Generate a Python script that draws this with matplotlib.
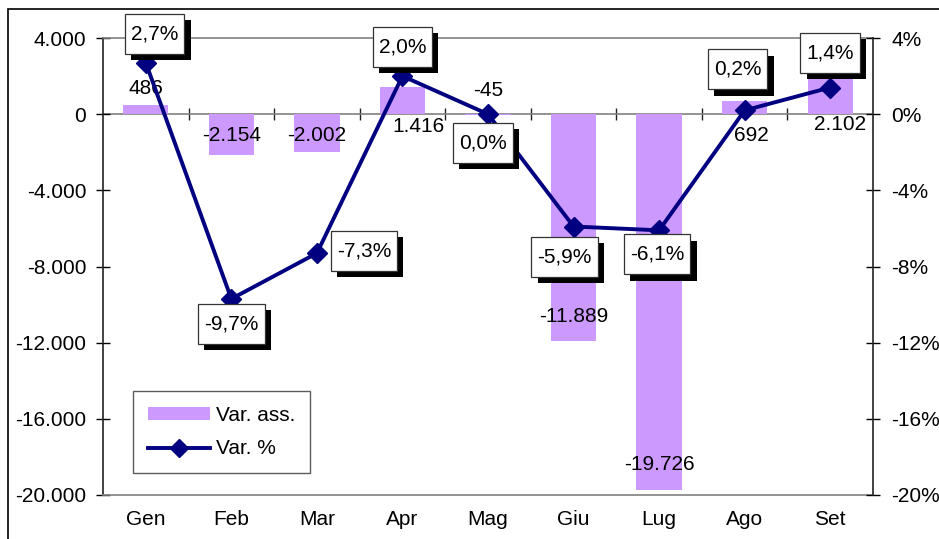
import matplotlib
matplotlib.use("Agg")
import matplotlib.pyplot as plt
import matplotlib.patheffects as pe
from matplotlib.patches import Rectangle, Patch
from matplotlib.lines import Line2D
from matplotlib.path import Path
from matplotlib.ticker import FuncFormatter

plt.rcParams['font.family'] = ['Liberation Sans', 'DejaVu Sans']

months = ["Gen", "Feb", "Mar", "Apr", "Mag", "Giu", "Lug", "Ago", "Set"]
var_ass = [486, -2154, -2002, 1416, -45, -11889, -19726, 692, 2102]
var_pct = [2.7, -9.7, -7.3, 2.0, 0.0, -5.9, -6.1, 0.2, 1.4]

# label placement offsets (pixels) — styling
bar_lbl_off = [(0, 16), (0, 20), (0, 17), (16, -39), (0, 25), (0, 24), (0, 25), (7, -35), (10, -50)]
pct_lbl_off = [(9, 29), (0, -25), (47, 2), (0, 29), (-5, -29), (-9, -30), (-2, -24), (-7, 41), (0, 35)]

BAR = "#CC99FF"
LINE = "#000080"
GRAY = "#808080"
FS = 15

def it_int(v):
    s = f"{abs(int(round(v))):,}".replace(",", ".")
    return ("-" if v < 0 else "") + s

def it_pct(v):
    s = f"{v:.1f}".replace(".", ",")
    return s + "%"

def label_box(x0, y0, width, height, mutation_size):
    cx, cy = x0 + width / 2, y0 + height / 2
    W, H = width + 12, 40
    l, b = cx - W / 2, cy - H / 2
    return Path([(l, b), (l + W, b), (l + W, b + H), (l, b + H), (l, b)], closed=True)

fig = plt.figure(figsize=(9.39, 5.39), dpi=100)
fig.patches.append(Rectangle((8/939, -0.05), 1.2, (539-9)/539 + 0.05, transform=fig.transFigure,
                             fill=False, edgecolor="black", lw=1.2))

ax = fig.add_axes([103/939, 44/539, 770/939, 457/539])
x = list(range(len(months)))
ax.bar(x, var_ass, width=0.53, color=BAR, zorder=2)
ax.set_xlim(-0.5, len(months) - 0.5)
ax.set_ylim(-20000, 4000)
ax.set_yticks(range(-20000, 4001, 4000))
ax.yaxis.set_major_formatter(FuncFormatter(lambda v, p: it_int(v)))
ax.set_xticks(x)
ax.set_xticklabels(months)
ax.tick_params(axis='x', length=0, pad=11, labelsize=FS)
ax.tick_params(axis='y', direction='inout', length=10, width=1, pad=7, labelsize=FS)
for s in ['top', 'bottom']:
    ax.spines[s].set_color(GRAY)
    ax.spines[s].set_linewidth(1.2)
ax.spines['right'].set_visible(False)
ax.spines['left'].set_color("#222222")
ax.spines['left'].set_linewidth(1.2)
ax.axhline(0, color=GRAY, lw=1.2, zorder=1)

# category ticks on zero line
sec = ax.secondary_xaxis(20/24)
sec.set_xticks([i + 0.5 for i in range(len(months) - 1)])
sec.set_xticklabels([])
sec.tick_params(direction='inout', length=9, width=1, color="#222222")
sec.spines['bottom'].set_visible(False)
sec.spines['top'].set_visible(False)

for i, v in enumerate(var_ass):
    dx, dy = bar_lbl_off[i]
    ax.annotate(it_int(v), (i, v), xytext=(dx, dy), textcoords='offset pixels',
                ha='center', va='center', fontsize=FS, zorder=5)

ax2 = ax.twinx()
ax2.set_ylim(-20, 4)
ax2.set_yticks(range(-20, 5, 4))
ax2.yaxis.set_major_formatter(FuncFormatter(lambda v, p: f"{int(v)}%"))
ax2.tick_params(axis='y', direction='inout', length=10, width=1, pad=8, labelsize=FS)
for s in ['top', 'bottom', 'left']:
    ax2.spines[s].set_visible(False)
ax2.spines['right'].set_color("#222222")
ax2.spines['right'].set_linewidth(1.2)
ax2.plot(x, var_pct, color=LINE, lw=2.8, marker='D', markersize=10, zorder=4)

for i, v in enumerate(var_pct):
    dx, dy = pct_lbl_off[i]
    t = ax2.annotate(it_pct(v), (i, v), xytext=(dx, dy), textcoords='offset pixels',
                     ha='center', va='center', fontsize=FS, zorder=6,
                     bbox=dict(boxstyle=label_box, fc='white', ec='#333333', lw=0.9))
    t.get_bbox_patch().set_path_effects([
        pe.SimplePatchShadow(offset=(4.5, -4.5), shadow_rgbFace='black', alpha=1.0),
        pe.Normal()])

handles = [Patch(facecolor=BAR, edgecolor='none'),
           Line2D([0], [0], color=LINE, lw=2.8, marker='D', markersize=9)]
leg = ax2.legend(handles, ["Var. ass.", "Var. %"], loc='lower left',
                 bbox_to_anchor=(0.039, 0.048), fontsize=FS, frameon=True, fancybox=False,
                 edgecolor='#333333', handlelength=3.0, handleheight=0.6, labelspacing=0.7,
                 borderpad=0.7, handletextpad=0.3, borderaxespad=0)
leg.get_frame().set_linewidth(1.0)

fig.savefig("out.png", dpi=100)
